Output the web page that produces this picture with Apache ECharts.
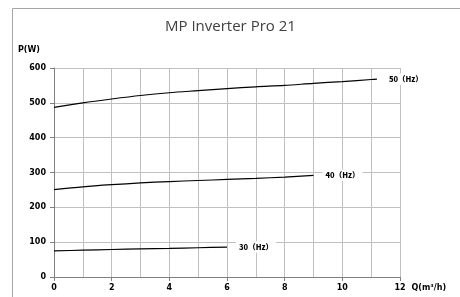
<!DOCTYPE html>
<html>
<head>
<meta charset="utf-8">
<script src="https://cdn.jsdelivr.net/npm/echarts@6/dist/echarts.min.js"></script>
<style>
  html, body { margin: 0; padding: 0; background: #fff; }
  #chart { width: 460px; height: 297px; }
</style>
</head>
<body>
<div id="chart"></div>
<script>
const title = 'MP Inverter Pro 21';

const q50 = [0, 1, 2, 3, 4, 5, 6, 7, 8, 9, 10, 11, 11.2];
const p50 = [487, 500, 511, 521, 529, 535, 541, 546, 550, 556, 561, 567, 568];

const q40 = [0, 1, 2, 3, 4, 5, 6, 7, 8, 9];
const p40 = [251, 259, 265, 270, 274, 277, 280, 283, 287, 292];

const q30 = [0, 1, 2, 3, 4, 5, 6];
const p30 = [75, 77, 79, 81, 82, 84, 86];

const seriesNames = ['50（Hz）', '40（Hz）', '30（Hz）'];

function pairs(xs, ys) {
  return xs.map((x, i) => [x, ys[i]]);
}

const myChart = echarts.init(document.getElementById('chart'));

const axisFont = {
  color: '#000',
  fontFamily: 'DejaVu Sans',
  fontWeight: 'bold',
  fontSize: 8
};

const endLabel = {
  show: true,
  formatter: '{a}',
  distance: 9,
  color: '#000',
  fontFamily: 'Noto Sans CJK SC',
  fontWeight: 900,
  fontSize: 7.5,
  backgroundColor: '#fff',
  padding: [2, 3]
};

const mySeries = [
  { data: pairs(q50, p50) },
  { data: pairs(q40, p40) },
  { data: pairs(q30, p30) }
].map((s, i) => ({
  name: seriesNames[i],
  type: 'line',
  smooth: 0.3,
  symbol: 'none',
  data: s.data,
  lineStyle: { color: '#000', width: 1.2 },
  endLabel: endLabel,
  z: 3
}));

myChart.setOption({
  animation: false,
  title: {
    text: title,
    left: 160,
    top: 14,
    textStyle: {
      fontFamily: 'Open Sans',
      fontWeight: 'normal',
      fontSize: 15,
      color: '#404040'
    }
  },
  graphic: [{
    type: 'rect',
    shape: { x: 12.5, y: 8.5, width: 470, height: 300 },
    style: { fill: 'none', stroke: '#a6a6a6', lineWidth: 1 },
    silent: true,
    z: 0
  }],
  grid: { left: 54, right: 60, top: 68, bottom: 20 },
  xAxis: {
    type: 'value',
    min: 0,
    max: 12,
    interval: 2,
    name: 'Q(m³/h)',
    nameLocation: 'end',
    nameGap: 10,
    nameTextStyle: Object.assign({}, axisFont, { verticalAlign: 'top', padding: [7, 0, 0, 0] }),
    axisLine: { lineStyle: { color: '#808080', width: 1 } },
    axisTick: { show: true, length: 4, lineStyle: { color: '#808080' } },
    minorTick: { show: false, splitNumber: 2 },
    axisLabel: Object.assign({}, axisFont, { margin: 7 }),
    splitLine: { show: true, lineStyle: { color: '#c0c0c0', width: 1 } },
    minorSplitLine: { show: true, lineStyle: { color: '#c0c0c0', width: 1 } }
  },
  yAxis: {
    type: 'value',
    min: 0,
    max: 600,
    interval: 100,
    name: 'P(W)',
    nameGap: 14,
    nameTextStyle: Object.assign({}, axisFont, { align: 'right', padding: [0, 14, 0, 0] }),
    axisLine: { show: true, lineStyle: { color: '#808080', width: 1 } },
    axisTick: { show: true, length: 4, lineStyle: { color: '#808080' } },
    axisLabel: Object.assign({}, axisFont, { margin: 8 }),
    splitLine: { show: true, lineStyle: { color: '#c0c0c0', width: 1 } }
  },
  series: mySeries
});
</script>
</body>
</html>
